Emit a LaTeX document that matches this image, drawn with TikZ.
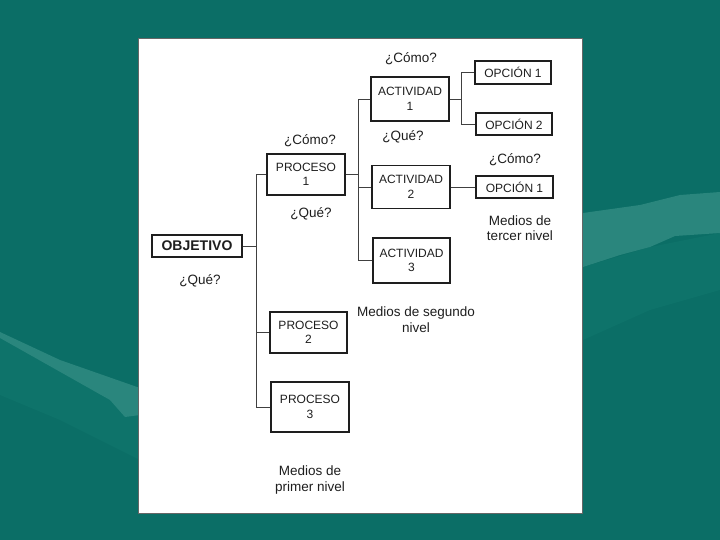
\documentclass[tikz,border=0pt]{standalone}
\usepackage{fontspec}
\setmainfont{Liberation Sans}
\definecolor{bgteal}{HTML}{0B6E66}
\definecolor{lightteal}{HTML}{2A867D}
\definecolor{midteal}{HTML}{0E736A}
\definecolor{ink}{HTML}{1E1E1E}
\begin{document}
\begin{tikzpicture}[x=1pt,y=-1pt,
  box/.style={draw=ink,line width=1.3pt,fill=white,inner sep=0pt,align=center,
    font=\fontsize{12}{14.5}\selectfont,text=ink},
  objbox/.style={box,line width=1.9pt,font=\fontsize{14}{16}\selectfont\bfseries},
  lbl/.style={align=center,inner sep=0pt,font=\fontsize{13.5}{15.5}\selectfont,text=ink},
  conn/.style={draw=ink!85,line width=0.9pt}]
\useasboundingbox (0,0) rectangle (720,540);
% background
\fill[bgteal] (0,0) rectangle (720,540);
\fill[midteal] (0,338) -- (110,400) -- (140,415) -- (140,460) -- (60,420) -- (0,395) -- cycle;
\fill[lightteal] (0,332) -- (60,360) -- (140,388) -- (140,415) -- (125,417) -- (110,400) -- (0,338) -- cycle;
\fill[midteal] (583,267) -- (650,247) -- (720,233) -- (720,290) -- (650,310) -- (583,340) -- cycle;
\fill[lightteal] (583,213) -- (640,205) -- (680,195) -- (720,192) -- (720,233) -- (675,236) -- (650,247) -- (620,255) -- (583,267) -- cycle;
% sheet
\fill[white] (138,38) rectangle (582,513);
\draw[black!60,line width=0.6pt] (138,38) rectangle (582,513);
% junction columns
\coordinate (j1) at (256,0);
\coordinate (j2) at (358,0);
\coordinate (j3) at (461,0);
% nodes
\node[objbox,minimum width=90,minimum height=22] (obj) at (197,246) {OBJETIVO};
\node[box,minimum width=78,minimum height=41] (p1) at (306,174.5) {PROCESO\\1};
\node[box,minimum width=77,minimum height=41] (p2) at (308.5,332.5) {PROCESO\\2};
\node[box,minimum width=78,minimum height=50] (p3) at (310,407) {PROCESO\\3};
\node[box,minimum width=78,minimum height=44] (a1) at (410,99) {ACTIVIDAD\\1};
\node[box,minimum width=78,minimum height=43] (a2) at (411,187) {ACTIVIDAD\\2};
\node[box,minimum width=77,minimum height=45] (a3) at (411.5,260.5) {ACTIVIDAD\\3};
\node[box,minimum width=76,minimum height=23] (o1) at (513,72.5) {OPCIÓN 1};
\node[box,minimum width=76,minimum height=22] (o2) at (514,124) {OPCIÓN 2};
\node[box,minimum width=77,minimum height=22] (o3) at (514.5,187) {OPCIÓN 1};
% labels
\node[lbl] (q0) at (200,281) {¿Qué?};
\node[lbl] (c1) at (310,141) {¿Cómo?};
\node[lbl] (q1) at (311,214) {¿Qué?};
\node[lbl] (c2) at (411,59) {¿Cómo?};
\node[lbl] (q2) at (403,137) {¿Qué?};
\node[lbl] (c3) at (515,160) {¿Cómo?};
\node[lbl] (m3) at (520,228) {Medios de\\tercer nivel};
\node[lbl] (m2) at (416,319.5) {Medios de segundo\\nivel};
\node[lbl] (m1) at (310,480) {Medios de\\primer nivel};
% connectors
\draw[conn] (obj.east) -- (obj.east -| j1);
\draw[conn] (p1.west) -- (p1.west -| j1) |- (p3.west);
\draw[conn] (p2.west) -- (p2.west -| j1);
\draw[conn] (p1.east) -- (p1.east -| j2);
\draw[conn] (a1.west) -- (a1.west -| j2) |- (a3.west);
\draw[conn] (a2.west) -- (a2.west -| j2);
\draw[conn] (a1.east) -- (a1.east -| j3);
\draw[conn] (o1.west) -- (o1.west -| j3) |- (o2.west);
\draw[conn] (a2.east) -- (o3.west);
\end{tikzpicture}
\end{document}
